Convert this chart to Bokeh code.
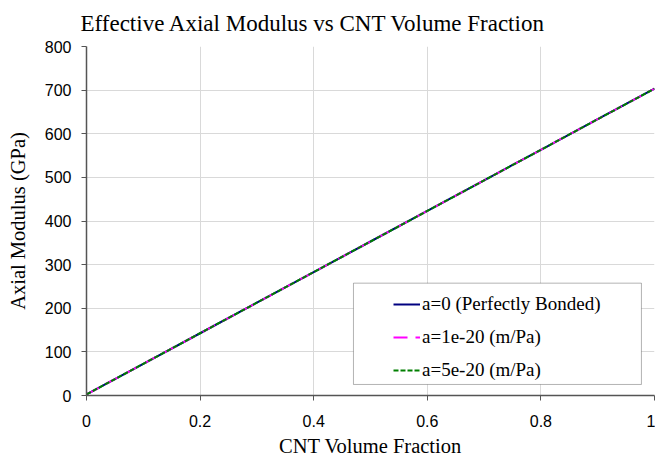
from bokeh.plotting import figure
from bokeh.models import Range1d, FixedTicker, Legend, LegendItem, BoxAnnotation
from bokeh.embed import file_html
from bokeh.resources import INLINE

# data
volume_fraction = [0.0, 0.1, 0.2, 0.3, 0.4, 0.5, 0.6, 0.7, 0.8, 0.9, 1.0]
modulus_bonded = [2.5, 72.6, 142.7, 212.8, 282.9, 353.0, 423.1, 493.2, 563.3, 633.4, 703.5]
modulus_a1e20 = [2.5, 72.6, 142.7, 212.8, 282.9, 353.0, 423.1, 493.2, 563.3, 633.4, 703.4]
modulus_a5e20 = [2.5, 72.6, 142.7, 212.8, 282.9, 352.9, 423.0, 493.1, 563.2, 633.3, 703.3]
series_labels = ["a=0 (Perfectly Bonded)", "a=1e-20 (m/Pa)", "a=5e-20 (m/Pa)"]
x_ticks = [0, 0.2, 0.4, 0.6, 0.8, 1.0]
y_ticks = [0, 100, 200, 300, 400, 500, 600, 700, 800]
title_text = "Effective Axial Modulus vs CNT Volume Fraction"

SERIF = "Liberation Serif"
SANS = "Liberation Sans"

p = figure(width=655, height=460, output_backend="svg", toolbar_location=None,
           x_range=Range1d(0, 1), y_range=Range1d(0, 800),
           min_border_left=86, min_border_right=1, min_border_top=46, min_border_bottom=65,
           title=title_text)
p.outline_line_color = None
p.background_fill_color = "white"
p.border_fill_color = "white"

p.title.text_font = SERIF
p.title.text_font_size = "23px"
p.title.text_font_style = "normal"
p.title.text_color = "black"
p.title.align = "left"
p.title.offset = -6
p.title.vertical_align = "top"
p.title.standoff = 18

p.xaxis.ticker = FixedTicker(ticks=x_ticks)
p.yaxis.ticker = FixedTicker(ticks=y_ticks)
p.xaxis.major_label_overrides = {0: "0", 1: "1"}
p.xaxis.minor_tick_line_color = None
p.yaxis.minor_tick_line_color = None
for ax in (p.xaxis, p.yaxis):
    ax.axis_line_color = "#555555"
    ax.axis_line_width = 1.5
    ax.major_tick_line_color = "#555555"
    ax.major_tick_out = 5
    ax.major_tick_in = 0
    ax.major_label_text_font = SANS
    ax.major_label_text_font_size = "16px"
    ax.major_label_text_color = "black"
    ax.axis_label_text_font = SERIF
    ax.axis_label_text_font_size = "20.5px"
    ax.axis_label_text_font_style = "normal"
    ax.axis_label_text_color = "black"
p.xaxis.axis_label = "CNT Volume Fraction"
p.yaxis.axis_label = "Axial Modulus (GPa)"
p.xaxis.major_label_standoff = 14
p.yaxis.major_label_standoff = 10
p.xaxis.axis_label_standoff = 5
p.yaxis.axis_label_standoff = 13

p.grid.grid_line_color = "#d9d9d9"
p.grid.grid_line_width = 1

r1 = p.line(volume_fraction, modulus_bonded, line_color="#000080", line_width=2)
r2 = p.line(volume_fraction, modulus_a1e20, line_color="#FF00FF", line_width=2, line_dash="14 8")
r3 = p.line(volume_fraction, modulus_a5e20, line_color="#007F00", line_width=2, line_dash="5 2")

box = BoxAnnotation(left=0.470, right=0.977, bottom=25.3, top=257.5,
                    fill_color="white", fill_alpha=1.0, line_color="black", line_width=1)
p.add_layout(box)

legend = Legend(items=[LegendItem(label=series_labels[0], renderers=[r1]),
                       LegendItem(label=series_labels[1], renderers=[r2]),
                       LegendItem(label=series_labels[2], renderers=[r3])],
                location=(307, 14), padding=0, spacing=11, label_standoff=2,
                glyph_width=27, glyph_height=20, label_height=20,
                border_line_color=None, background_fill_alpha=0,
                label_text_font=SERIF, label_text_font_size="19px",
                label_text_color="black", margin=0)
p.add_layout(legend)

open("out.html", "w").write(file_html(p, INLINE))
